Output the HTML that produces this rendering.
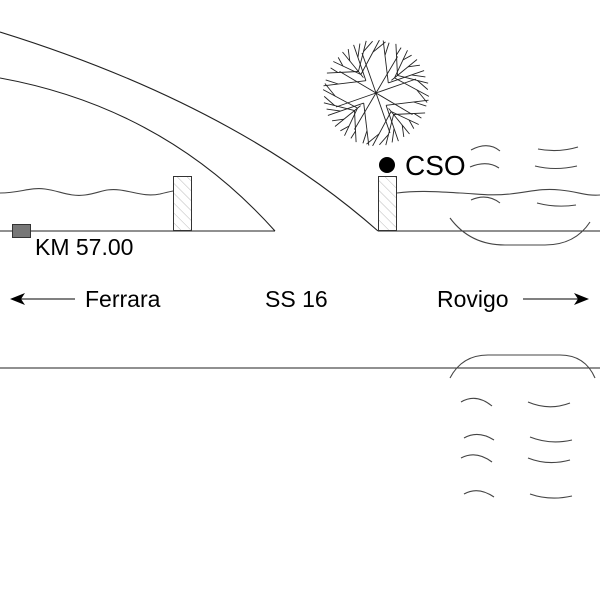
<!DOCTYPE html>
<html><head><meta charset="utf-8"><style>
html,body{margin:0;padding:0;background:#fff;width:600px;height:600px;overflow:hidden}
svg{display:block}
text{font-family:"Liberation Sans",Arial,sans-serif;fill:#000}
</style></head><body>
<svg id="s" width="600" height="600" viewBox="0 0 600 600" xmlns="http://www.w3.org/2000/svg">
<defs>
<pattern id="h" width="7" height="7" patternUnits="userSpaceOnUse" patternTransform="rotate(-45)">
<line x1="0" y1="0" x2="0" y2="7" stroke="#bbb" stroke-width="1"/>
</pattern>
</defs>
<g fill="none" stroke="#222" stroke-width="1.1">
<path d="M0,32 Q235,105 378,231"/>
<path d="M0,78 Q165,108 275,231"/>
<line x1="0" y1="231" x2="275" y2="231"/>
<line x1="378" y1="231" x2="600" y2="231"/>
<path d="M450,218 Q470,245 505,245 L545,245 Q575,245 590,222" stroke="#444"/>
<line x1="0" y1="368" x2="600" y2="368"/>
<path d="M450,378 Q462,355 488,355 L560,355 Q585,355 595,378" stroke="#444"/>
<path d="M0,193 C20,193 30,187 45,189 S70,197 85,195 S105,188 120,190 S145,197 160,194 Q168,192 173,191" stroke="#444"/>
<path d="M397,193 C420,190 440,192 460,193 S490,196 510,194 S540,188 560,190 S585,196 600,195" stroke="#444"/>
<g stroke="#444">
<path d="M471,150 Q488,141 500,151"/><path d="M538,149 Q558,153 578,147"/>
<path d="M470,167 Q487,160 499,168"/><path d="M535,166 Q555,171 577,166"/>
<path d="M471,200 Q487,193 500,203"/><path d="M537,203 Q556,208 576,205"/>
<path d="M461,402 Q476,393 492,406"/><path d="M528,402 Q549,411 570,403"/>
<path d="M464,438 Q478,430 494,440"/><path d="M530,437 Q550,445 572,440"/>
<path d="M461,458 Q476,450 492,462"/><path d="M528,458 Q548,466 570,460"/>
<path d="M464,494 Q478,486 494,497"/><path d="M530,494 Q550,501 572,496"/>
</g>
<line x1="12" y1="299" x2="75" y2="299" stroke="#000"/>
<line x1="523" y1="299" x2="586" y2="299" stroke="#000"/>
</g>
<path d="M10,299 L25,293 L21,299 L25,305 Z" fill="#000"/>
<path d="M589,299 L574,293 L578,299 L574,305 Z" fill="#000"/>
<rect x="173.5" y="176.5" width="18" height="54" fill="url(#h)" stroke="#333"/>
<rect x="378.5" y="176.5" width="18" height="54" fill="url(#h)" stroke="#333"/>
<rect x="12.5" y="224.5" width="18" height="13" fill="#777" stroke="#333"/>
<circle cx="387" cy="165" r="8" fill="#000"/>
<g id="tree" stroke="#222" stroke-width="0.9" fill="none"></g>
<text x="405" y="175" font-size="28">CSO</text>
<text x="35" y="255" font-size="23">KM 57.00</text>
<text x="85" y="307" font-size="23">Ferrara</text>
<text x="265" y="307" font-size="23">SS 16</text>
<text x="437" y="307" font-size="23">Rovigo</text>
</svg>
<script>
(function(){
var g=document.getElementById('tree'),cx=376,cy=93,R=53,ns='http://www.w3.org/2000/svg';
function L(x1,y1,x2,y2){var l=document.createElementNS(ns,'line');l.setAttribute('x1',x1.toFixed(1));l.setAttribute('y1',y1.toFixed(1));l.setAttribute('x2',x2.toFixed(1));l.setAttribute('y2',y2.toFixed(1));g.appendChild(l);}
var lobes=[-Math.PI/4+0.1,Math.PI/4+0.1,3*Math.PI/4+0.1,-3*Math.PI/4+0.1];
lobes.forEach(function(a){
  for(var s=-1;s<=1;s+=2){var b=a+s*0.35;L(cx,cy,cx+Math.cos(b)*R*0.8,cy+Math.sin(b)*R*0.8);}
  for(var i=0;i<7;i++){
    var b=a-0.75+i*0.25;var r0=R*(0.3+0.3*((i*3)%4)/4);
    var x0=cx+Math.cos(a)*r0,y0=cy+Math.sin(a)*r0;
    var x1=cx+Math.cos(b)*R,y1=cy+Math.sin(b)*R;
    L(x0,y0,x1,y1);
    var bx=x0+(x1-x0)*0.65,by=y0+(y1-y0)*0.65;
    L(bx,by,cx+Math.cos(b+0.12)*R*0.98,cy+Math.sin(b+0.12)*R*0.98);
  }
});
})();
</script>
</body></html>
